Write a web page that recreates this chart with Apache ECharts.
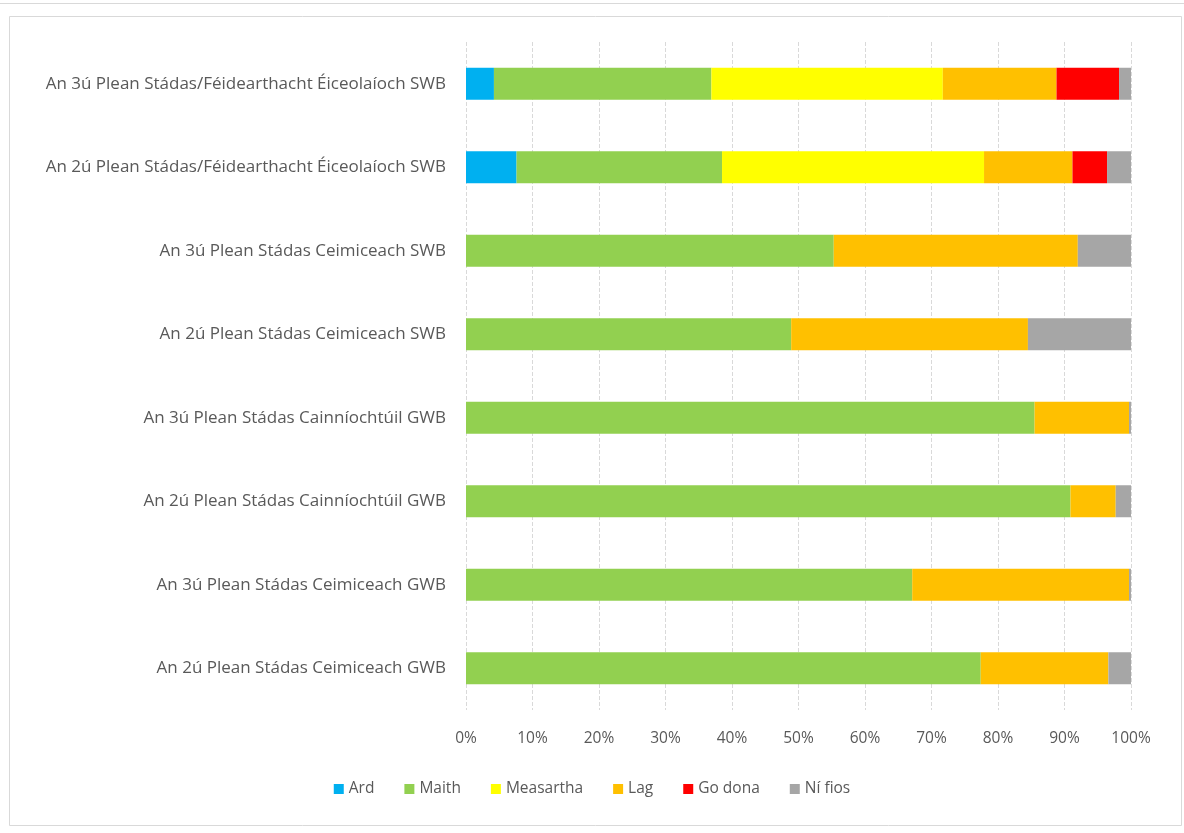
<!DOCTYPE html>
<html>
<head>
<meta charset="utf-8">
<script src="https://cdn.jsdelivr.net/npm/echarts@6/dist/echarts.min.js"></script>
<style>html,body{margin:0;padding:0;background:#fff}#c{width:1184px;height:833px}</style>
</head>
<body>
<div id="c"></div>
<script>
// categories bottom -> top
const categories = [
  'An 2ú Plean Stádas Ceimiceach GWB',
  'An 3ú Plean Stádas Ceimiceach GWB',
  'An 2ú Plean Stádas Cainníochtúil GWB',
  'An 3ú Plean Stádas Cainníochtúil GWB',
  'An 2ú Plean Stádas Ceimiceach SWB',
  'An 3ú Plean Stádas Ceimiceach SWB',
  'An 2ú Plean Stádas/Féidearthacht Éiceolaíoch SWB',
  'An 3ú Plean Stádas/Féidearthacht Éiceolaíoch SWB'
];
const ard       = [0, 0, 0, 0, 0, 0, 7.6, 4.2];
const maith     = [77.4, 67.1, 90.9, 85.5, 48.9, 55.3, 30.9, 32.7];
const measartha = [0, 0, 0, 0, 0, 0, 39.4, 34.8];
const lag       = [19.2, 32.6, 6.8, 14.2, 35.6, 36.7, 13.3, 17.1];
const godona    = [0, 0, 0, 0, 0, 0, 5.2, 9.4];
const nifios    = [3.4, 0.3, 2.3, 0.3, 15.5, 8.0, 3.6, 1.8];
const xTicks = [0,10,20,30,40,50,60,70,80,90,100];

const seriesNames = ['Ard','Maith','Measartha','Lag','Go dona','Ní fios'];
const seriesData = [ard, maith, measartha, lag, godona, nifios];
const colors = ['#00B0F0','#92D050','#FFFF00','#FFC000','#FF0000','#A6A6A6'];
const font = '"Open Sans", Roboto, sans-serif';

const chart = echarts.init(document.getElementById('c'), null, {renderer:'canvas'});
chart.setOption({
  animation: false,
  backgroundColor: '#fff',
  color: colors,
  graphic: [
    {type:'line', shape:{x1:0,y1:3.5,x2:1184,y2:3.5}, style:{stroke:'#d9d9d9',lineWidth:1}, silent:true},
    {type:'rect', shape:{x:9.5,y:16.5,width:1172,height:809}, style:{fill:'none',stroke:'#d9d9d9',lineWidth:1}, silent:true}
  ],
  grid: {left:466, right:53, top:42, bottom:123, containLabel:false},
  legend: {
    bottom: 31, left: 'center',
    itemWidth: 10, itemHeight: 10, itemGap: 30,
    icon: 'rect',
    textStyle: {color:'#595959', fontSize:15.5, fontFamily:font},
    data: seriesNames
  },
  xAxis: {
    type:'value', min:0, max:100, interval:10,
    axisLine:{show:false}, axisTick:{show:false},
    axisLabel:{formatter: v => xTicks.includes(v) ? v + '%' : '', color:'#595959', fontSize:15.5, fontFamily:font, margin:21},
    splitLine:{show:true, lineStyle:{color:'#D9D9D9', type:'dashed', width:1}}
  },
  yAxis: {
    type:'category', data: categories,
    axisLine:{show:false}, axisTick:{show:false},
    axisLabel:{color:'#595959', fontSize:17, fontFamily:font, margin:20}
  },
  series: seriesNames.map((n,i) => ({
    name:n, type:'bar', stack:'total', barWidth:32,
    data: seriesData[i],
    itemStyle:{color:colors[i]}
  }))
});
</script>
</body>
</html>
